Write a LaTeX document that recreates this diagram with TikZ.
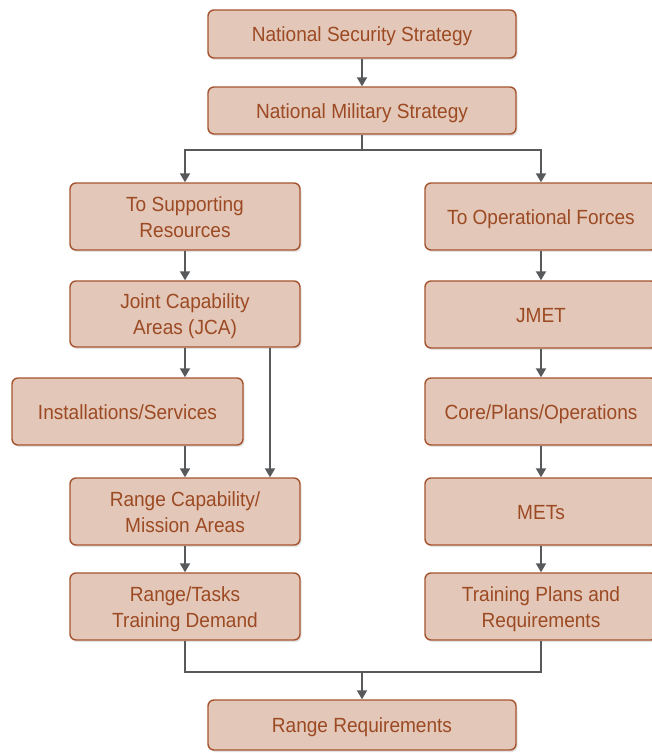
\documentclass[tikz,border=0pt]{standalone}
\usepackage{fontspec}
\setmainfont{Liberation Sans}[FakeStretch=0.93]
\usetikzlibrary{arrows.meta,shadows}
\definecolor{boxfill}{HTML}{E3C7B8}
\definecolor{boxdraw}{HTML}{A5532E}
\definecolor{boxtext}{HTML}{9C4A23}
\definecolor{arrgray}{HTML}{58595B}
\newcommand\boxtxt[1]{\raisebox{-2.5pt}[\height][\depth]{\begin{tabular}{@{}c@{}}#1\end{tabular}}}
\begin{document}
\begin{tikzpicture}[x=1pt,y=-1pt,
  box/.style={draw=boxdraw, line width=1.4pt, fill=boxfill, rounded corners=6pt,
    text=boxtext, inner sep=0pt,
    font=\fontsize{20.5}{26}\selectfont,
    drop shadow={shadow xshift=1.5pt, shadow yshift=-2pt, opacity=0.22}},
  wbox/.style={box, minimum width=230pt, minimum height=67pt},
  rbox/.style={box, minimum width=232pt, minimum height=67pt},
  cbox/.style={box, minimum width=308pt},
  conn/.style={draw=arrgray, line width=1.9pt},
  arr/.style={conn, -{Triangle[width=10pt,length=9pt]}}]
\useasboundingbox (0,0) rectangle (652,753);
\node[cbox, minimum height=48pt] (nss) at (362,34) {\boxtxt{National Security Strategy}};
\node[cbox, minimum height=47pt] (nms) at (362,110.5) {\boxtxt{National Military Strategy}};
\node[wbox] (tsr) at (185,216.5) {\boxtxt{To Supporting\\Resources}};
\node[rbox] (tof) at (541,216.5) {\boxtxt{To Operational Forces}};
\node[wbox, minimum height=66pt] (jca) at (185,314) {\boxtxt{Joint Capability\\Areas (JCA)}};
\node[rbox] (jmet) at (541,314.5) {\boxtxt{JMET}};
\node[box, minimum width=231pt, minimum height=67pt] (inst) at (127.5,411.5) {\boxtxt{Installations/Services}};
\node[rbox] (core) at (541,411.5) {\boxtxt{Core/Plans/Operations}};
\node[wbox] (rcap) at (185,511.5) {\boxtxt{Range Capability/\\Mission Areas}};
\node[rbox] (mets) at (541,511.5) {\boxtxt{METs}};
\node[wbox] (rtt) at (185,606.5) {\boxtxt{Range/Tasks\\Training Demand}};
\node[rbox] (tpr) at (541,606.5) {\boxtxt{Training Plans and\\Requirements}};
\node[cbox, minimum height=50pt] (rr) at (362,725) {\boxtxt{Range Requirements}};
\coordinate (split) at (362,150);
\coordinate (merge) at (362,672);
\draw[arr] (nss) -- (nms);
\draw[conn] (nms.south) -- (split);
\draw[arr] (split) -| (tsr.north);
\draw[arr] (split) -| (tof.north);
\draw[arr] (tsr) -- (jca);
\draw[arr] (jca.south) -- (jca.south |- inst.north);
\draw[arr] ([xshift=85pt]jca.south) -- ([xshift=85pt]jca.south |- rcap.north);
\draw[arr] (inst.south -| rcap.north) -- (rcap.north);
\draw[arr] (rcap) -- (rtt);
\draw[arr] (tof) -- (jmet);
\draw[arr] (jmet) -- (core);
\draw[arr] (core) -- (mets);
\draw[arr] (mets) -- (tpr);
\draw[conn] (rtt.south) -- (rtt.south |- merge) -- (tpr.south |- merge) -- (tpr.south);
\draw[arr] (merge) -- (rr);
\end{tikzpicture}
\end{document}
